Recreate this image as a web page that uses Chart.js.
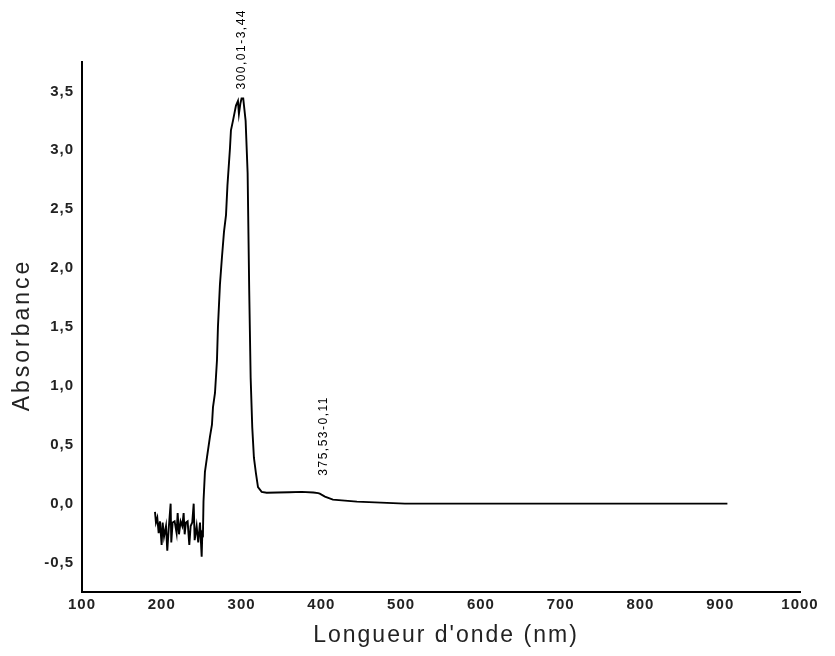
<!DOCTYPE html>
<html>
<head>
<meta charset="utf-8">
<script src="https://cdn.jsdelivr.net/npm/chart.js@4.4.1/dist/chart.umd.min.js"></script>
<style>
  html, body { margin: 0; padding: 0; background: #fff; }
  #wrap { width: 835px; height: 656px; position: relative; }
</style>
</head>
<body>
<div id="wrap"><canvas id="specChart"></canvas></div>
<script>
// UV-Vis spectrum (wavelength in nm, absorbance)
const wavelengths = [
  191.5, 192.7, 194.4, 196.1, 197.7, 199.8, 201.1, 202.8, 205.3, 206.9,
  208.6, 211.1, 211.9, 213.6, 216.1, 218.6, 219.9, 221.6, 223.6, 225.7,
  227.4, 228.7, 230.3, 232.4, 234.5, 236.2, 238.2, 240.0, 241.2, 243.7,
  245.7, 247.9, 250.0, 250.8, 251.6, 252.3, 254.1, 256.6, 260.4, 262.9,
  264.2, 266.7, 269.2, 270.4, 272.9, 275.4, 278.0, 280.5, 282.3, 285.5,
  286.7, 289.2, 293.0, 295.5, 296.7, 298.6, 300.0, 302.1, 305.1, 307.6,
  309.6, 311.4, 313.4, 315.5, 318.0, 320.6, 325.2, 331.5, 345, 360,
  375.5, 390, 396, 398, 404.5, 414.5, 444.6, 504.8, 600, 700, 800, 909
];
const absorbance = [
  -0.07, -0.16, -0.12, -0.25, -0.15, -0.35, -0.16, -0.28, -0.19, -0.40,
  -0.22, 0.00, -0.33, -0.16, -0.15, -0.25, -0.08, -0.26, -0.15, -0.19,
  -0.08, -0.26, -0.16, -0.15, -0.35, -0.19, -0.16, 0.00, -0.31, -0.19,
  -0.33, -0.16, -0.45, -0.25, -0.26, 0.02, 0.27, 0.39, 0.57, 0.67,
  0.82, 0.94, 1.22, 1.50, 1.86, 2.09, 2.31, 2.45, 2.70, 3.02,
  3.17, 3.25, 3.38, 3.42, 3.31, 3.40, 3.44, 3.44, 3.25, 2.81,
  1.81, 1.07, 0.65, 0.39, 0.26, 0.14, 0.10, 0.093, 0.095, 0.097,
  0.10, 0.095, 0.09, 0.085, 0.06, 0.034, 0.017, 0.0, 0.0, 0.0, 0.0, 0.0
];

const xTicks = [100, 200, 300, 400, 500, 600, 700, 800, 900, 1000];
const yTicks = [-0.5, 0, 0.5, 1.0, 1.5, 2.0, 2.5, 3.0, 3.5];

// peak annotations
const peakWl = [300.01, 375.53];
const peakAbs = [3.44, 0.11];
const peakText = ['300,01-3,44', '375,53-0,11'];

const xTitle = "Longueur d'onde (nm)";
const yTitle = 'Absorbance';

const points = wavelengths.map((w, i) => ({ x: w, y: absorbance[i] }));
const FONT = '"Liberation Sans", Arial, sans-serif';

// tick labels in the reference are a little wider than plain Arial
const spacing = {
  id: 'spacing',
  beforeDraw(chart) { chart.ctx.letterSpacing = '1px'; },
  afterDraw(chart) { chart.ctx.letterSpacing = '0px'; }
};

// rotated peak labels + axis titles
const extraText = {
  id: 'extraText',
  afterDraw(chart) {
    const { ctx, chartArea, scales: { x, y } } = chart;
    const dx = [0, 22];
    const gap = [9, 15];
    ctx.save();
    ctx.fillStyle = '#000';
    ctx.font = '12px ' + FONT;
    ctx.letterSpacing = '1.5px';
    ctx.textAlign = 'left';
    ctx.textBaseline = 'middle';
    peakWl.forEach((w, i) => {
      const px = x.getPixelForValue(w) + dx[i];
      const py = y.getPixelForValue(peakAbs[i]) - gap[i];
      ctx.save();
      ctx.translate(px, py);
      ctx.rotate(-Math.PI / 2);
      ctx.fillText(peakText[i], 0, 0);
      ctx.restore();
    });

    ctx.fillStyle = '#222';
    ctx.font = '23px ' + FONT;
    ctx.textAlign = 'center';
    ctx.letterSpacing = '2px';
    ctx.fillText(xTitle, (chartArea.left + chartArea.right) / 2 + 5, 636);

    ctx.letterSpacing = '3px';
    ctx.save();
    ctx.translate(23, (chartArea.top + chartArea.bottom) / 2 + 8);
    ctx.rotate(-Math.PI / 2);
    ctx.fillText(yTitle, 0, 0);
    ctx.restore();
    ctx.restore();
  }
};

const ctx = document.getElementById('specChart').getContext('2d');
new Chart(ctx, {
  type: 'line',
  data: {
    datasets: [{
      data: points,
      borderColor: '#000',
      borderWidth: 1.9,
      pointRadius: 0,
      tension: 0,
      fill: false
    }]
  },
  plugins: [spacing, extraText],
  options: {
    responsive: true,
    maintainAspectRatio: false,
    animation: false,
    layout: { padding: { left: 0, top: 62, right: 35, bottom: 0 } },
    plugins: {
      legend: { display: false },
      tooltip: { enabled: false }
    },
    scales: {
      x: {
        type: 'linear',
        min: 100,
        max: 1000,
        afterBuildTicks: (s) => { s.ticks = xTicks.map(v => ({ value: v })); },
        afterFit: (s) => { s.height = 64; },
        grid: { display: false, drawTicks: false },
        border: { display: true, color: '#000', width: 2 },
        ticks: {
          color: '#222',
          padding: 4,
          maxRotation: 0,
          font: { family: FONT, size: 15, weight: 'bold' },
          callback: (v) => String(v)
        }
      },
      y: {
        type: 'linear',
        min: -0.75,
        max: 3.75,
        afterBuildTicks: (s) => { s.ticks = yTicks.map(v => ({ value: v })); },
        afterFit: (s) => { s.width = 82; },
        grid: { display: false, drawTicks: false },
        border: { display: true, color: '#000', width: 2 },
        ticks: {
          color: '#222',
          padding: 8,
          font: { family: FONT, size: 15, weight: 'bold' },
          callback: (v) => v.toFixed(1).replace('.', ',')
        }
      }
    }
  }
});
</script>
</body>
</html>
